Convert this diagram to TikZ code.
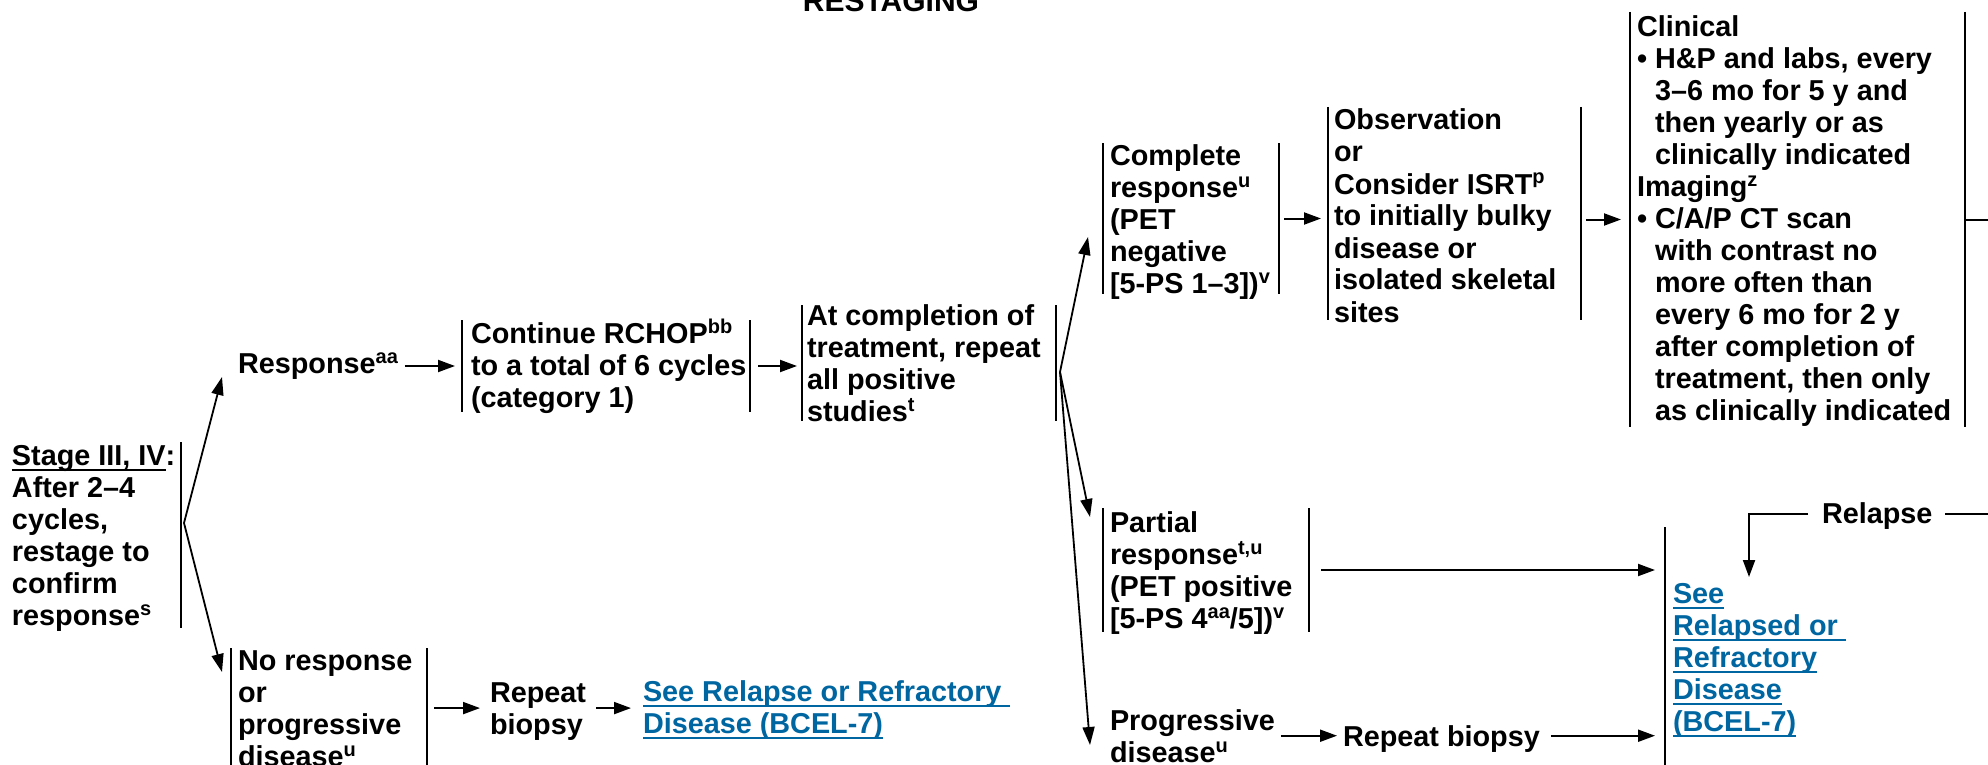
\documentclass[tikz,border=0pt]{standalone}
\usepackage{fontspec}
\setmainfont{Liberation Sans}
\usetikzlibrary{arrows.meta}
\definecolor{nccnblue}{RGB}{0,102,161}
\newcommand\lines[1]{\vtop{\halign{##\hfil\cr#1\crcr}}}
\newcommand\sps[1]{\raisebox{10pt}{\fontsize{20pt}{20pt}\selectfont #1}}
\newcommand\ulx[1]{\setbox0\hbox{#1}\rlap{\vrule height -3.5pt depth 5.5pt width \wd0}\box0}
\newcommand\ind{\hphantom{•\ }}
\begin{document}
\begin{tikzpicture}[x=1pt,y=-1pt,
  txt/.style={anchor=base west,inner sep=0pt,outer sep=0pt,font=\fontsize{28.8pt}{32pt}\selectfont\bfseries},
  frame/.style={draw=none,inner sep=0pt,outer sep=0pt,anchor=north west},
  bar/.style={line width=2pt},
  arr/.style={line width=2pt,-{Triangle[length=17pt,width=12pt]}},
  arrs/.style={line width=1.8pt,-{Triangle[length=18pt,width=12pt]}},
  link/.style={txt,text=nccnblue}]
\useasboundingbox (0,0) rectangle (1988,765);
\clip (0,0) rectangle (1988,765);

% box frames (left/right bars)
\node[frame,minimum width=169pt,minimum height=186pt] (stageb) at (12,442) {};
\node[frame,minimum width=288pt,minimum height=92pt] (cont) at (462,320) {};
\node[frame,minimum width=254pt,minimum height=116pt] (atc) at (802,305) {};
\node[frame,minimum width=176pt,minimum height=151pt] (comp) at (1103,143) {};
\node[frame,minimum width=253pt,minimum height=213pt] (obs) at (1328,107) {};
\node[frame,minimum width=335pt,minimum height=415pt] (clin) at (1630,12) {};
\node[frame,minimum width=206pt,minimum height=124pt] (part) at (1103,508) {};
\node[frame,minimum width=196pt,minimum height=152pt] (nores) at (231,648) {};
\node[frame,minimum width=240pt,minimum height=273pt] (relb) at (1665,527) {};

\draw[bar] (stageb.north east) -- (stageb.south east);
\foreach \b in {cont,atc,comp,obs,clin,part,nores}{
  \draw[bar] (\b.north west) -- (\b.south west) (\b.north east) -- (\b.south east);
}
\draw[bar] (relb.north west) -- (relb.south west);

% texts
\node[anchor=base,inner sep=0pt,font=\fontsize{30pt}{32pt}\selectfont\bfseries] (title) at (891,12) {RESTAGING};
\node[txt] (stage-t) at (12,465) {\lines{\ulx{Stage III, IV}:\cr After 2–4\cr cycles,\cr restage to\cr confirm\cr response\sps{s}}};
\node[txt] (resp-t) at (238,373) {Response\sps{aa}};
\node[txt] (cont-t) at (471,343) {\lines{Continue RCHOP\sps{bb}\cr to a total of 6 cycles\cr (category 1)}};
\node[txt] (atc-t) at (807,325) {\lines{At completion of\cr treatment, repeat\cr all positive\cr studies\sps{t}}};
\node[txt] (comp-t) at (1110,165) {\lines{Complete\cr response\sps{u}\cr (PET\cr negative\cr [5-PS 1–3])\sps{v}}};
\node[txt] (obs-t) at (1334,130) {\lines{Observation\cr or\cr Consider ISRT\sps{p}\cr to initially bulky\cr disease or\cr isolated skeletal\cr sites}};
\node[txt] (clin-t) at (1637,37) {\lines{Clinical\cr •\ H\&P and labs, every\cr \ind 3–6 mo for 5 y and\cr \ind then yearly or as\cr \ind clinically indicated\cr Imaging\sps{z}\cr •\ C/A/P CT scan\cr \ind with contrast no\cr \ind more often than\cr \ind every 6 mo for 2 y\cr \ind after completion of\cr \ind treatment, then only\cr \ind as clinically indicated}};
\node[txt] (part-t) at (1110,532) {\lines{Partial\cr response\sps{t,u}\cr (PET positive\cr [5-PS 4\sps{aa}/5])\sps{v}}};
\node[txt] (prog-t) at (1110,730) {\lines{Progressive\cr disease\sps{u}}};
\node[txt] (rb2-t) at (1343,746) {Repeat biopsy};
\node[link] (relb-t) at (1673,603) {\lines{\ulx{See}\cr \ulx{Relapsed or\ }\cr \ulx{Refractory}\cr \ulx{Disease}\cr \ulx{(BCEL-7)}}};
\node[txt] (relapse-t) at (1822,523) {Relapse};
\node[txt] (nores-t) at (238,670) {\lines{No response\cr or\cr progressive\cr disease\sps{u}}};
\node[txt] (rb1-t) at (490,702) {\lines{Repeat\cr biopsy}};
\node[link] (link-t) at (643,701) {\lines{\ulx{See Relapse or Refractory\ }\cr \ulx{Disease (BCEL-7)}}};

% fork points and arrow targets
\coordinate (f1) at (184,523);
\coordinate (resp-in) at (222,377);
\coordinate (nores-in) at (222,672);
\coordinate (f2) at (1060,372);
\coordinate (comp-in) at (1088,237);
\coordinate (part-in) at (1090,517);
\coordinate (prog-in) at (1090,745);
\coordinate (out1) at (1988,219.5);
\coordinate (relR) at (1988,514);
\coordinate (relb-in) at (1749,577);

\draw[arrs] (f1) -- (resp-in);
\draw[arrs] (f1) -- (nores-in);
\draw[arrs] (f2) -- (comp-in);
\draw[arrs] (f2) -- (part-in);
\draw[arrs] (f2) -- (prog-in);

\draw[arr] ([xshift=7pt]resp-t.east |- cont.west) -- ([xshift=-7pt]cont.west);
\draw[arr] ([xshift=8pt]cont.east) -- ([xshift=-5pt]atc.west |- cont.east);
\draw[arr] ([xshift=5pt]comp.east) -- ([xshift=-7pt]obs.west |- comp.east);
\draw[arr] ([xshift=5pt]obs.east |- clin.west) -- ([xshift=-9pt]clin.west);
\draw[bar] (clin.east) -- (out1);
\draw[arr] ([xshift=12pt]part.east) -- ([xshift=-10pt]relb.west |- part.east);
\draw[arr] ([xshift=6pt]prog-t.east) -- ([xshift=-6pt]rb2-t.west |- prog-t.east);
\draw[arr] ([xshift=11pt]rb2-t.east |- prog-t.east) -- ([xshift=-10pt]relb.west |- prog-t.east);
\draw[arr] ([xshift=7pt,yshift=3pt]nores.east |- rb1-t.west) -- ([xshift=-10pt,yshift=3pt]rb1-t.west);
\draw[arr] ([xshift=10pt,yshift=3pt]rb1-t.east) -- ([xshift=-12pt,yshift=3pt]link-t.west |- rb1-t.east);
\draw[bar] (relR) -- ([xshift=13pt]relapse-t.east |- relR);
\draw[arr] ([xshift=-14pt]relapse-t.west |- relR) -| (relb-in);
\end{tikzpicture}
\end{document}
